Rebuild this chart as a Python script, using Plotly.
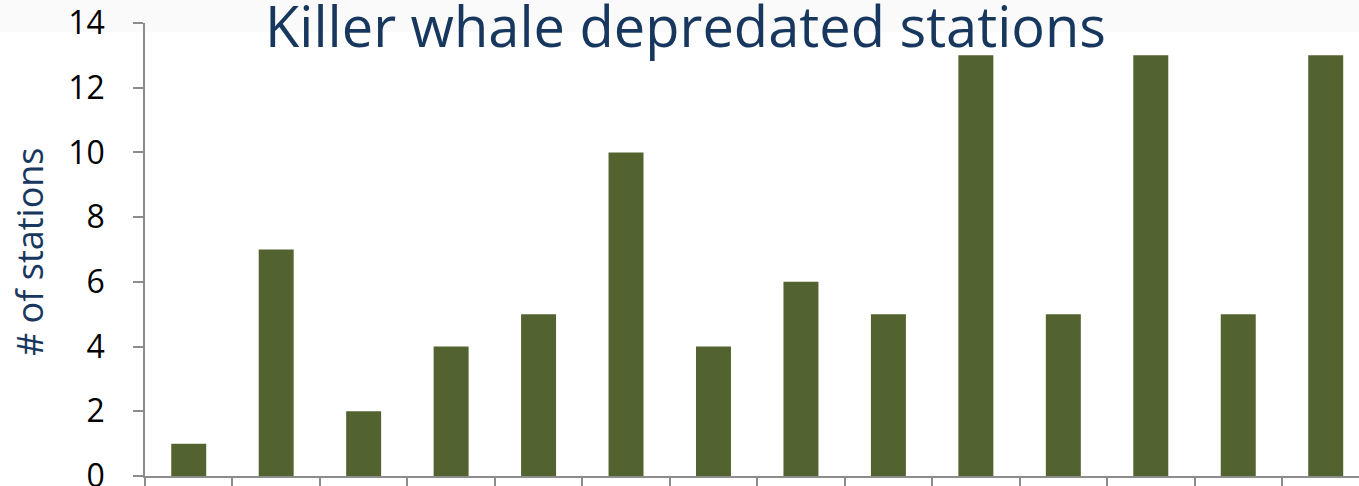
import plotly.graph_objects as go

categories = [f"S{i}" for i in range(1, 15)]
stations = [1, 7, 2, 4, 5, 10, 4, 6, 5, 13, 5, 13, 5, 13]
y_ticks = [0, 2, 4, 6, 8, 10, 12, 14]

W, H = 1359, 486
L, R, T, B = 145, 0, 23, 10
pw, ph = W - L - R, H - T - B

fig = go.Figure(go.Bar(
    x=categories, y=stations,
    marker=dict(color="#53632F", line=dict(width=0)),
    width=0.4,
))

font = "'Open Sans', sans-serif"
navy = "#17375E"

def py(p):
    return (H - B - p) / ph

fig.update_layout(
    width=W, height=H,
    margin=dict(l=L, r=R, t=T, b=B, autoexpand=False),
    paper_bgcolor="white",
    plot_bgcolor="rgba(0,0,0,0)",
    showlegend=False,
    xaxis=dict(
        type="category", range=[-0.5, -0.5 + pw / 87.46],
        showticklabels=False, ticks="outside", tickson="boundaries",
        ticklen=10, tickwidth=1.5, tickcolor="#8C8C8C",
        showline=True, linecolor="#8C8C8C", linewidth=1.5,
        showgrid=False, zeroline=False, fixedrange=True,
    ),
    yaxis=dict(
        range=[0, 14], tickvals=y_ticks, ticks="outside", ticklen=10,
        tickwidth=1.5, tickcolor="#8C8C8C",
        showline=True, linecolor="#8C8C8C", linewidth=1.5,
        showgrid=False, zeroline=False,
        tickfont=dict(family=font, size=32, color="black"),
        ticklabelstandoff=22, ticklabeloverflow="allow",
    ),
    shapes=[dict(
        type="rect", xref="paper", yref="paper", layer="below",
        x0=-L / pw, x1=1, y0=py(32), y1=py(0),
        fillcolor="#FAFAFA", line=dict(width=0),
    )],
    annotations=[
        dict(text="Killer whale depredated stations", xref="paper", yref="paper",
             x=(685.5 - L) / pw, y=py(25), xanchor="center", yanchor="middle",
             showarrow=False, font=dict(family=font, size=56, color=navy)),
        dict(text="# of stations", xref="paper", yref="paper",
             x=(30 - L) / pw, y=py(252), xanchor="center", yanchor="middle",
             textangle=-90, showarrow=False,
             font=dict(family=font, size=36, color=navy)),
    ],
)

fig.write_html("out.html", config={"displayModeBar": False},
               post_script="document.body.style.margin='0px';document.body.style.overflow='hidden';")
